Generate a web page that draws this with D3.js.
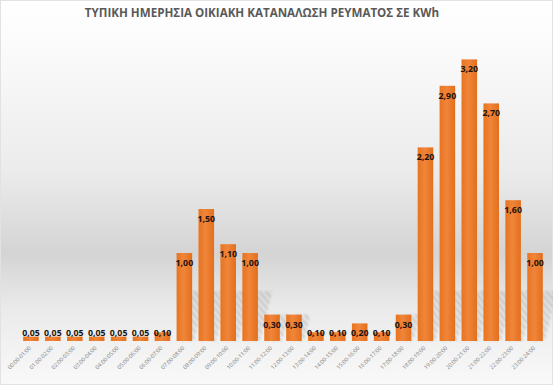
<!DOCTYPE html>
<html>
<head>
<meta charset="utf-8">
<script src="https://cdn.jsdelivr.net/npm/d3@7"></script>
<style>
  body { margin: 0; background: #fff; }
  #chart { width: 553px; height: 385px; }
</style>
</head>
<body>
<div id="chart"></div>
<script>
(function () {

  // data
  var hours = ["00:00-01:00", "01:00-02:00", "02:00-03:00", "03:00-04:00", "04:00-05:00", "05:00-06:00",
    "06:00-07:00", "07:00-08:00", "08:00-09:00", "09:00-10:00", "10:00-11:00", "11:00-12:00",
    "12:00-13:00", "13:00-14:00", "14:00-15:00", "15:00-16:00", "16:00-17:00", "17:00-18:00",
    "18:00-19:00", "19:00-20:00", "20:00-21:00", "21:00-22:00", "22:00-23:00", "23:00-24:00"];
  var kwh = [0.05, 0.05, 0.05, 0.05, 0.05, 0.05, 0.10, 1.00, 1.50, 1.10, 1.00, 0.30,
    0.30, 0.10, 0.10, 0.20, 0.10, 0.30, 2.20, 2.90, 3.20, 2.70, 1.60, 1.00];
  var title = "ΤΥΠΙΚΗ ΗΜΕΡΗΣΙΑ ΟΙΚΙΑΚΗ ΚΑΤΑΝΑΛΩΣΗ ΡΕΥΜΑΤΟΣ ΣΕ KWh";

  var width = 553,
      height = 385;

  var data = hours.map(function (h, i) { return { hour: h, value: kwh[i] } });

  var svg = d3.select("#chart")
    .append("svg")
    .attr("width", width)
    .attr("height", height);

  var defs = svg.append("defs");

  // background, white -> gray band -> light
  var bg = defs.append("linearGradient").attr("id", "bg")
    .attr("x1", 0).attr("y1", 0).attr("x2", 0).attr("y2", 1);
  [[0, "#ffffff"], [0.12, "#fbfbfb"], [0.45, "#ebebeb"], [0.66, "#d4d4d4"], [0.8, "#eaeaea"], [1, "#f9f9f9"]]
    .forEach(function (s) { bg.append("stop").attr("offset", s[0]).attr("stop-color", s[1]) });

  var barGrad = defs.append("linearGradient").attr("id", "barGrad")
    .attr("x1", 0).attr("y1", 0).attr("x2", 1).attr("y2", 0);
  barGrad.append("stop").attr("offset", 0).attr("stop-color", "#e8741f");
  barGrad.append("stop").attr("offset", 0.45).attr("stop-color", "#f0853a");
  barGrad.append("stop").attr("offset", 1).attr("stop-color", "#e36f1c");

  // stripes for the bar shadows
  var stripes = defs.append("pattern").attr("id", "stripes")
    .attr("width", 5).attr("height", 5)
    .attr("patternUnits", "userSpaceOnUse")
    .attr("patternTransform", "rotate(-40)");
  stripes.append("rect").attr("width", 2.5).attr("height", 5).attr("fill", "#8a8a8a");

  defs.append("filter").attr("id", "blur")
    .append("feGaussianBlur").attr("stdDeviation", 1.2);

  svg.append("rect")
    .attr("x", 0.5).attr("y", 0.5)
    .attr("width", width - 1).attr("height", height - 1)
    .attr("fill", "url(#bg)")
    .attr("stroke", "#e2e2e2");

  svg.append("text")
    .attr("x", 262)
    .attr("y", 17)
    .attr("text-anchor", "middle")
    .style("font-family", "'Open Sans', sans-serif")
    .style("font-weight", "bold")
    .style("font-size", "11.6px")
    .style("fill", "#595959")
    .text(title);

  // scales
  var x = d3.scaleBand()
    .domain(hours)
    .range([20, 546])
    .paddingInner(0.29)
    .paddingOuter(0.145);

  var y = d3.scaleLinear()
    .domain([0, 3.5])
    .range([341, 33]);

  // shadows behind bars
  svg.selectAll(".shadow")
    .data(data.filter(function (d) { return d.value >= 0.3 }))
    .enter().append("path")
    .attr("class", "shadow")
    .attr("d", function (d) {
      var x0 = x(d.hour), bw = x.bandwidth(), base = y(0);
      var h = Math.min(base - y(d.value), 50);
      var off = h * 0.25;
      return "M" + (x0 + 2) + "," + base + "L" + (x0 + bw + 2) + "," + base +
        "L" + (x0 + bw + off + 2) + "," + (base - h) + "L" + (x0 + off + 2) + "," + (base - h) + "Z";
    })
    .attr("fill", "url(#stripes)")
    .attr("opacity", 0.38)
    .attr("filter", "url(#blur)");

  // bars
  svg.selectAll(".bar")
    .data(data)
    .enter().append("rect")
    .attr("class", "bar")
    .attr("x", function (d) { return x(d.hour) })
    .attr("y", function (d) { return y(d.value) })
    .attr("width", x.bandwidth())
    .attr("height", function (d) { return y(0) - y(d.value) })
    .attr("fill", "url(#barGrad)");

  // value labels, inside the end of the bar, pushed up for tiny bars
  var fmt = function (v) { return d3.format(".2f")(v).replace(".", ",") };
  svg.selectAll(".val")
    .data(data)
    .enter().append("text")
    .attr("class", "val")
    .attr("x", function (d) { return x(d.hour) + x.bandwidth() / 2 })
    .attr("y", function (d) { return Math.min(y(d.value) + 10, 333) })
    .attr("dy", "0.35em")
    .attr("text-anchor", "middle")
    .style("font-family", "'Open Sans', sans-serif")
    .style("font-weight", "bold")
    .style("font-size", "8.8px")
    .style("fill", "#1c1410")
    .text(function (d) { return fmt(d.value) });

  // x axis
  var xAxis = svg.append("g")
    .attr("transform", "translate(0," + y(0) + ")")
    .call(d3.axisBottom(x).tickSize(0).tickPadding(0));
  xAxis.select(".domain").remove();
  xAxis.selectAll("text")
    .attr("transform", "translate(-1,6) rotate(-45)")
    .attr("text-anchor", "end")
    .attr("dy", "0.35em")
    .attr("y", 0)
    .style("font-family", "'Open Sans', sans-serif")
    .style("font-size", "5.6px")
    .style("fill", "#858585");

})()
</script>
</body>
</html>
